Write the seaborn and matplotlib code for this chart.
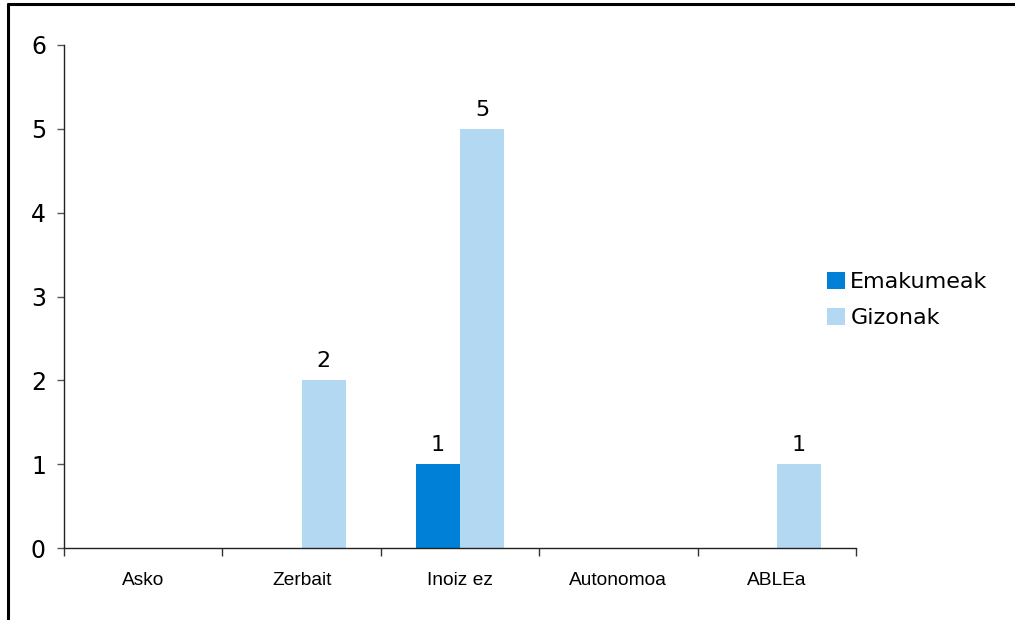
import matplotlib
matplotlib.use("Agg")
import matplotlib.pyplot as plt
import seaborn as sns
import pandas as pd
from matplotlib.lines import Line2D
from matplotlib.ticker import FixedLocator

categories = ["Asko", "Zerbait", "Inoiz ez", "Autonomoa", "ABLEa"]
emakumeak = [0, 0, 1, 0, 0]
gizonak = [0, 2, 5, 0, 1]
series_names = ["Emakumeak", "Gizonak"]
colors = ["#0080D6", "#B3D9F2"]
y_ticks = [0, 1, 2, 3, 4, 5, 6]

df = pd.DataFrame({
    "cat": categories * 2,
    "val": emakumeak + gizonak,
    "series": [series_names[0]] * len(categories) + [series_names[1]] * len(categories),
})

sns.set_theme(style="white")
plt.rcParams["font.family"] = ["DejaVu Sans"]
plt.rcParams["text.color"] = "black"
plt.rcParams["xtick.color"] = "black"
plt.rcParams["ytick.color"] = "black"

fig = plt.figure(figsize=(10.15, 6.2), dpi=100)
ax = fig.add_axes([64 / 1015, 1 - 548 / 620, (856 - 64) / 1015, (548 - 45) / 620])

sns.barplot(data=df, x="cat", y="val", hue="series", order=categories,
            hue_order=series_names, palette=colors, width=0.56, gap=0,
            saturation=1, ax=ax, legend=True, errorbar=None, linewidth=0)

for container in ax.containers:
    labels = [f"{v:g}" if v != 0 else "" for v in container.datavalues]
    ax.bar_label(container, labels=labels, padding=6.5, fontsize=16, color="black")

ax.set_xlim(-0.5, len(categories) - 0.5)
ax.set_ylim(0, 6)
ax.set_yticks(y_ticks)
ax.set_yticklabels([str(t) for t in y_ticks], fontsize=17, color="black")
ax.set_xlabel("")
ax.set_ylabel("")

ax.set_xticks(range(len(categories)))
ax.set_xticklabels(categories, fontsize=13.8, family="Liberation Sans", color="black")
ax.xaxis.set_minor_locator(FixedLocator([i - 0.5 for i in range(len(categories) + 1)]))
ax.tick_params(axis="x", which="major", length=0, pad=17)
ax.tick_params(axis="x", which="minor", length=6, width=1, color="#333333", direction="out", bottom=True)
ax.tick_params(axis="y", which="major", length=5, width=1, color="#555555", direction="out", left=True, pad=8)

for s in ["top", "right"]:
    ax.spines[s].set_visible(False)
for s in ["left", "bottom"]:
    ax.spines[s].set_color("#222222")
    ax.spines[s].set_linewidth(1)
ax.grid(False)

handles, labels = ax.get_legend_handles_labels()
ax.legend_.remove()
fig.legend(handles, labels, loc="center left", bbox_to_anchor=(827 / 1015, 1 - 300 / 620),
           bbox_transform=fig.transFigure, frameon=False, fontsize=16,
           handlelength=0.8, handleheight=0.8, handletextpad=0.25, labelspacing=0.68,
           borderpad=0, borderaxespad=0)

fig.add_artist(Line2D([7 / 1015, 1], [1 - 4 / 620, 1 - 4 / 620], transform=fig.transFigure,
                      color="black", linewidth=2.2, solid_capstyle="butt"))
fig.add_artist(Line2D([8 / 1015, 8 / 1015], [1 - 4 / 620, 0], transform=fig.transFigure,
                      color="black", linewidth=2.2))

fig.savefig("out.png", dpi=100, facecolor="white")
